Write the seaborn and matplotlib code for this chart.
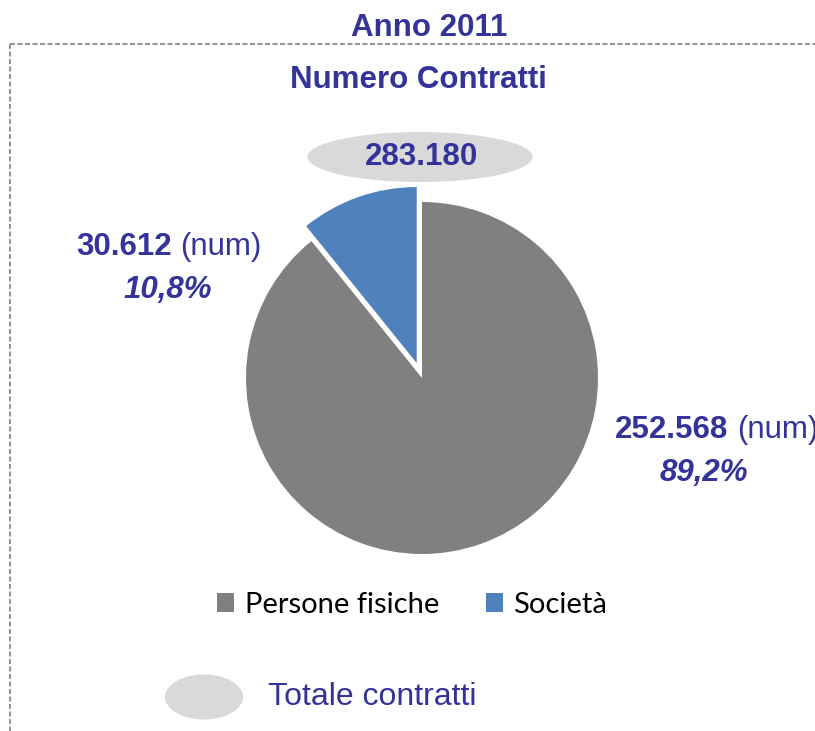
import numpy as np
import pandas as pd
import matplotlib
matplotlib.use("Agg")
import matplotlib.pyplot as plt
import seaborn as sns
from matplotlib.patches import Ellipse, Patch
from matplotlib.lines import Line2D

# data
categories = ["Persone fisiche", "Società"]
contracts = [252568, 30612]
pct_labels = ["89,2%", "10,8%"]
num_labels = ["252.568", "30.612"]
total_label = "283.180"
title_top = "Anno 2011"
title_sub = "Numero Contratti"
total_legend = "Totale contratti"

sns.set_theme(style="white")
plt.rcParams["font.family"] = ["Liberation Sans", "DejaVu Sans"]

navy = "#333399"
colors = ["#808080", "#4F81BD"]
oval = "#D9D9D9"

W, H = 815, 731
fig = plt.figure(figsize=(W / 100, H / 100), dpi=100)

# background axes in pixel coordinates for frame, texts and ovals
bg = fig.add_axes([0, 0, 1, 1])
bg.set_xlim(0, W)
bg.set_ylim(H, 0)
bg.axis("off")

# dashed frame (top and left edges visible)
bg.add_line(Line2D([10, W], [44, 44], color="#808080", lw=1.2, ls=(0, (3, 1.5))))
bg.add_line(Line2D([10, 10], [44, H], color="#808080", lw=1.2, ls=(0, (3, 1.5))))

bg.text(429, 28, title_top, ha="center", va="center", fontsize=22.5,
        fontweight="bold", color=navy)
bg.text(418, 80, title_sub, ha="center", va="center", fontsize=22.5,
        fontweight="bold", color=navy)

# total oval
bg.add_patch(Ellipse((420, 157), 225, 50, color=oval, lw=0))
bg.text(421, 157, total_label, ha="center", va="center", fontsize=22.5,
        fontweight="bold", color=navy)

# pie axes
cx, cy, R, half = 422, 378, 176, 215
pie_ax = fig.add_axes([(cx - half) / W, 1 - (cy + half) / H, 2 * half / W, 2 * half / H])
pie_ax.pie(contracts, colors=colors, startangle=90, counterclock=False,
           explode=[0, 0.09], radius=1,
           wedgeprops=dict(linewidth=0))
pie_ax.set_xlim(-half / R, half / R)
pie_ax.set_ylim(-half / R, half / R)
pie_ax.set_aspect("equal")
pie_ax.axis("off")

# slice labels
bg.text(172, 247, num_labels[1], ha="right", va="center", fontsize=22.5,
        fontweight="bold", color=navy)
bg.text(180, 247, "(num)", ha="left", va="center", fontsize=22.5, color=navy)
bg.text(168, 290, pct_labels[1], ha="center", va="center", fontsize=22.5,
        fontweight="bold", style="italic", color=navy)

bg.text(728, 430, num_labels[0], ha="right", va="center", fontsize=22.5,
        fontweight="bold", color=navy)
bg.text(737, 430, "(num)", ha="left", va="center", fontsize=22.5, color=navy)
bg.text(704, 473, pct_labels[0], ha="center", va="center", fontsize=22.5,
        fontweight="bold", style="italic", color=navy)

# category legend
handles = [Patch(facecolor=c, edgecolor="none") for c in colors]
leg = fig.legend(handles, categories, loc="center", bbox_to_anchor=(412 / W, 1 - 605 / H),
                 ncol=2, frameon=False, handlelength=0.6, handleheight=0.65,
                 handletextpad=0.35, columnspacing=1.6, labelcolor="black",
                 prop={"family": ["Lato", "DejaVu Sans"], "size": 21})

# total legend
bg.add_patch(Ellipse((204, 697), 78, 45, color=oval, lw=0))
bg.text(268, 697, total_legend, ha="left", va="center", fontsize=23, color=navy)

fig.savefig("out.png", dpi=100)
